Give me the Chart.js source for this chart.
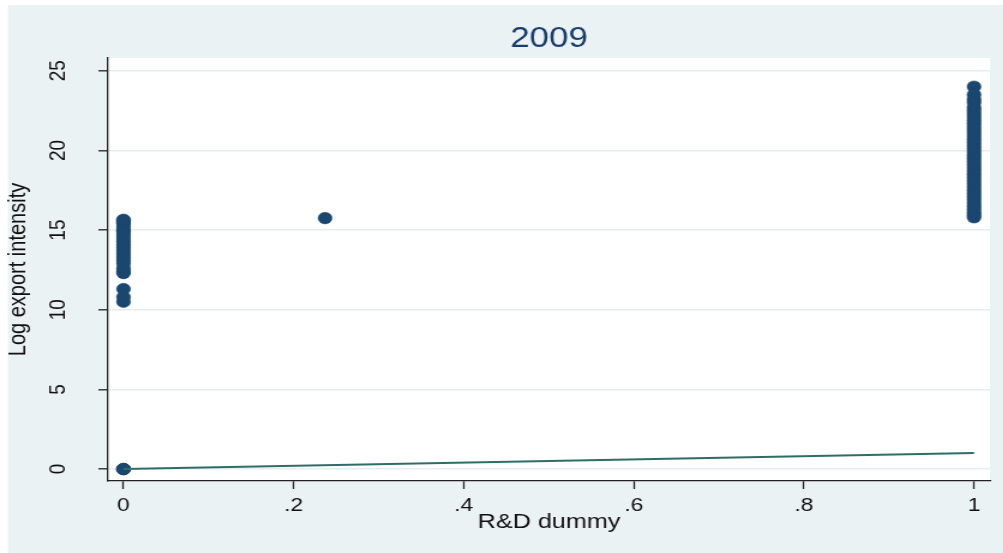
<!DOCTYPE html>
<html>
<head>
<meta charset="utf-8">
<script src="https://cdn.jsdelivr.net/npm/chart.js@4.4.1/dist/chart.umd.min.js"></script>
<style>
  html, body { margin: 0; padding: 0; background: #ffffff; }
  /* the graph is laid out narrow and stretched sideways, like the exported figure */
  #wrap { position: absolute; left: 0; top: 0; width: 836px; height: 553px; transform: scaleX(1.2); transform-origin: 0 0; }
</style>
</head>
<body>
<div id="wrap"><canvas id="scatterCanvas" width="836" height="553"></canvas></div>
<script>
// R&D dummy = 0
const noRdExports = [0, 0, 0, 10.5, 10.8, 11.3, 12.3, 12.4, 12.6, 12.9, 13.1, 13.3, 13.5, 13.7, 13.9,
    14.1, 14.3, 14.5, 14.7, 14.9, 15.0, 15.2, 15.4, 15.5, 15.6, 15.65];
// the single firm in between
const partialRdX = [0.237];
const partialRdExports = [15.75];
// R&D dummy = 1
const rdExports = [24.0, 23.5, 23.2, 23.0, 22.7, 22.5, 22.3, 22.1, 21.9, 21.7, 21.5, 21.3, 21.1, 20.9,
    20.7, 20.5, 20.3, 20.1, 19.9, 19.7, 19.5, 19.3, 19.1, 18.9, 18.7, 18.5, 18.3, 18.1, 17.9, 17.7,
    17.5, 17.3, 17.1, 16.9, 16.7, 16.5, 16.3, 16.1, 15.95, 15.8];
// fitted line
const fitX = [0, 1];
const fitY = [0, 1];

const xTicks = [0, 0.2, 0.4, 0.6, 0.8, 1];
const xTickLabels = ["0", ".2", ".4", ".6", ".8", "1"];
const yTicks = [0, 5, 10, 15, 20, 25];

const NAVY = "#1a476f";
const BG = "#eaf2f3";
const FONT = '"Liberation Sans", Arial, sans-serif';

const points = [
    ...noRdExports.map(y => ({ x: 0, y })),
    ...partialRdExports.map((y, i) => ({ x: partialRdX[i], y })),
    ...rdExports.map(y => ({ x: 1, y })),
];
const fitLine = fitX.map((x, i) => ({ x, y: fitY[i] }));

const backdrop = {
    id: "backdrop",
    beforeDraw(chart) {
        const { ctx, width, height, chartArea: a } = chart;
        ctx.save();
        ctx.fillStyle = "#ffffff";
        ctx.fillRect(0, 0, width, height);
        ctx.fillStyle = BG;
        ctx.fillRect(6.7, 5, width, height);
        ctx.fillStyle = "#ffffff";
        ctx.fillRect(a.left, a.top, a.right - a.left, a.bottom - a.top);
        ctx.restore();
    }
};

// y tick labels run vertically
const yTickText = {
    id: "yTickText",
    afterDraw(chart) {
        const { ctx } = chart;
        const yScale = chart.scales.y;
        ctx.save();
        ctx.font = "19px " + FONT;
        ctx.fillStyle = "#111111";
        ctx.textAlign = "center";
        ctx.textBaseline = "middle";
        yTicks.forEach(v => {
            ctx.save();
            ctx.translate(49, yScale.getPixelForValue(v));
            ctx.rotate(-Math.PI / 2);
            ctx.fillText(String(v), 0, 0);
            ctx.restore();
        });
        ctx.restore();
    }
};

new Chart(document.getElementById("scatterCanvas"), {
    type: "scatter",
    data: {
        datasets: [
            {
                label: "Fitted values",
                data: fitLine,
                showLine: true,
                borderColor: "#2e6e66",
                borderWidth: 2,
                pointRadius: 0,
                order: 0,
            },
            {
                label: "Log export intensity",
                data: points,
                backgroundColor: NAVY,
                borderColor: NAVY,
                borderWidth: 0.5,
                pointRadius: 5.8,
                order: 1,
            },
        ],
    },
    options: {
        responsive: false,
        devicePixelRatio: 1,
        animation: false,
        layout: { padding: { left: 0, right: 11, top: 0, bottom: 0 } },
        plugins: {
            legend: { display: false },
            tooltip: { enabled: false },
            title: {
                display: true,
                fullSize: false,
                text: "2009",
                color: "#1a3d6d",
                font: { family: FONT, size: 29, weight: "normal" },
                padding: { top: 22, bottom: 1.2 },
            },
        },
        scales: {
            x: {
                type: "linear",
                min: -0.0182,
                max: 1.0188,
                afterBuildTicks: scale => { scale.ticks = xTicks.map(value => ({ value })); },
                afterFit: scale => { scale.height = 72; },
                ticks: {
                    callback: (value) => xTickLabels[xTicks.indexOf(value)],
                    color: "#111111",
                    font: { family: FONT, size: 19 },
                    padding: 5,
                    maxRotation: 0,
                },
                grid: {
                    drawOnChartArea: false,
                    drawTicks: true,
                    tickLength: 8,
                    tickColor: "#222222",
                    tickWidth: 1.3,
                },
                border: { display: true, color: "#222222", width: 1.3 },
                title: {
                    display: true,
                    text: "R&D dummy",
                    color: "#111111",
                    font: { family: FONT, size: 21 },
                    padding: { top: 0, bottom: 18 },
                },
            },
            y: {
                type: "linear",
                min: -0.75,
                max: 25.8,
                afterBuildTicks: scale => { scale.ticks = yTicks.map(value => ({ value })); },
                afterFit: scale => { scale.width = 90; },
                ticks: { display: false },
                grid: {
                    color: "#e6eef0",
                    lineWidth: 1.6,
                    drawTicks: true,
                    tickLength: 8,
                    tickColor: "#222222",
                    tickWidth: 1.3,
                },
                border: { display: true, color: "#222222", width: 1.3 },
                title: {
                    display: true,
                    text: "Log export intensity",
                    color: "#111111",
                    font: { family: FONT, size: 20 },
                    padding: { top: 3, bottom: 0 },
                },
            },
        },
    },
    plugins: [backdrop, yTickText],
});
</script>
</body>
</html>
